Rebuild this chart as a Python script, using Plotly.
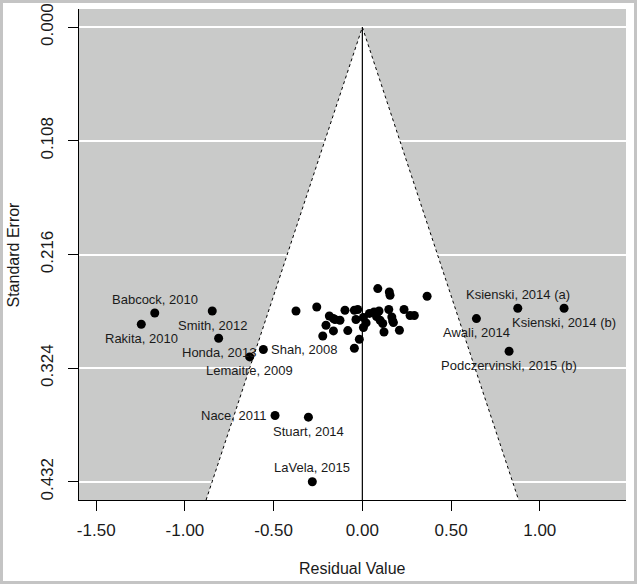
import plotly.graph_objects as go

# Labelled studies
lab_names = ["Babcock, 2010", "Rakita, 2010", "Smith, 2012", "Honda, 2013", "Lemaitre, 2009",
             "Shah, 2008", "Nace, 2011", "Stuart, 2014", "LaVela, 2015",
             "Ksienski, 2014 (a)", "Ksienski, 2014 (b)", "Awali, 2014", "Podczervinski, 2015 (b)"]
lab_resid = [-1.170, -1.246, -0.846, -0.810, -0.635, -0.558, -0.492, -0.304, -0.282,
             0.876, 1.137, 0.643, 0.827]
lab_se = [0.2716, 0.2823, 0.2697, 0.2956, 0.3133, 0.3063, 0.3690, 0.3706, 0.4320,
          0.2671, 0.2671, 0.2769, 0.3079]
lab_pos = ["top", "bottom", "bottom", "bottom", "bottom", "right", "left", "bottom", "top",
           "top", "bottom", "bottom", "bottom"]

# Unlabelled studies (central cluster)
other_resid = [-0.374, -0.257, -0.186, -0.154, -0.163, -0.126, -0.205, -0.223, -0.163, -0.098,
               -0.082, -0.045, -0.026, -0.036, -0.017, -0.045, 0.006, 0.021, 0.006, 0.087,
               0.152, 0.156, 0.365, 0.066, 0.094, 0.149, 0.235, 0.269, 0.293, 0.100,
               0.115, 0.166, 0.171, 0.175, 0.122, 0.209, 0.040, 0.080]
other_se = [0.2697, 0.2659, 0.2744, 0.2778, 0.2769, 0.2785, 0.2832, 0.2934, 0.2886, 0.2690,
            0.2883, 0.2690, 0.2683, 0.2778, 0.2965, 0.3051, 0.2759, 0.2810, 0.2854, 0.2484,
            0.2516, 0.2547, 0.2557, 0.2706, 0.2697, 0.2683, 0.2683, 0.2740, 0.2740, 0.2785,
            0.2816, 0.2754, 0.2791, 0.2807, 0.2896, 0.2880, 0.2720, 0.2750]

x_ticks = [-1.5, -1.0, -0.5, 0.0, 0.5, 1.0]
x_ticklabels = ["-1.50", "-1.00", "-0.50", "0.00", "0.50", "1.00"]
y_ticks = [0.000, 0.108, 0.216, 0.324, 0.432]
y_ticklabels = ["0.000", "0.108", "0.216", "0.324", "0.432"]

x_range = [-1.597, 1.486]
y_range = [-0.0173, 0.4493]
z = 1.96
gray = "#c9cac9"

W, H = 637, 584
ml, mr, mt, mb = 79, 11, 9, 84
pw, ph = W - ml - mr, H - mt - mb

fig = go.Figure()

ymax = y_range[1]
# white funnel region
fig.add_trace(go.Scatter(
    x=[-z * ymax, 0, z * ymax, -z * ymax], y=[ymax, 0, ymax, ymax],
    mode="lines", fill="toself", fillcolor="white",
    line=dict(color="white", width=0), hoverinfo="skip", showlegend=False))
# funnel edges (dotted)
fig.add_trace(go.Scatter(
    x=[-z * ymax, 0, z * ymax], y=[ymax, 0, ymax], mode="lines",
    line=dict(color="black", width=1, dash="dot"), hoverinfo="skip", showlegend=False))
# vertical reference line
fig.add_trace(go.Scatter(
    x=[0, 0], y=[0, ymax], mode="lines",
    line=dict(color="black", width=1.2), hoverinfo="skip", showlegend=False))

fig.add_trace(go.Scatter(
    x=other_resid + lab_resid, y=other_se + lab_se, mode="markers",
    marker=dict(color="black", size=9), showlegend=False))

font_lab = dict(family="Liberation Sans, Arial, sans-serif", size=13, color="#1a1a1a")
for name, xv, yv, pos in zip(lab_names, lab_resid, lab_se, lab_pos):
    a = dict(x=xv, y=yv, xref="x", yref="y", text=name, showarrow=False, font=font_lab)
    if pos == "top":
        a.update(xanchor="center", yanchor="middle", yshift=14)
    elif pos == "bottom":
        a.update(xanchor="center", yanchor="middle", yshift=-14)
    elif pos == "left":
        a.update(xanchor="right", yanchor="middle", xshift=-6)
    else:
        a.update(xanchor="left", yanchor="middle", xshift=6)
    fig.add_annotation(**a)

font_ax = dict(family="Liberation Sans, Arial, sans-serif", size=16, color="#1a1a1a")
font_tick = dict(family="Liberation Sans, Arial, sans-serif", size=17, color="#1a1a1a")
fig.add_annotation(x=0.5, y=(H - 568 - mb) / ph, xref="paper", yref="paper",
                   text="Residual Value", showarrow=False, font=font_ax,
                   xanchor="center", yanchor="middle")
fig.add_annotation(x=(13 - ml) / pw, y=0.5, xref="paper", yref="paper",
                   text="Standard Error", showarrow=False, font=font_ax, textangle=-90,
                   xanchor="center", yanchor="middle")

# outer frame
fig.add_shape(type="rect", xref="paper", yref="paper",
              x0=(1.5 - ml) / pw, x1=(W - 1.5 - ml) / pw,
              y0=(1.5 - mb) / ph, y1=(H - 1.5 - mb) / ph,
              line=dict(color="#c4c4c4", width=3), fillcolor="rgba(0,0,0,0)", layer="above")

fig.update_layout(
    width=W, height=H,
    margin=dict(l=ml, r=mr, t=mt, b=mb, autoexpand=False),
    paper_bgcolor="white", plot_bgcolor=gray,
    showlegend=False,
    xaxis=dict(range=x_range, tickvals=x_ticks, ticktext=x_ticklabels, automargin=False,
               showgrid=False, zeroline=False, showline=True, linecolor="black", linewidth=1,
               ticks="outside", ticklen=10, tickwidth=1, tickcolor="black",
               tickfont=font_tick, ticklabelstandoff=5),
    yaxis=dict(range=[y_range[1], y_range[0]], tickvals=y_ticks, ticktext=y_ticklabels,
               automargin=False,
               showgrid=True, gridcolor="white", gridwidth=1.5, zeroline=False,
               showline=True, linecolor="black", linewidth=1,
               ticks="outside", ticklen=10, tickwidth=1, tickcolor="black",
               tickfont=font_tick, tickangle=-90, ticklabelstandoff=8),
)

fig.write_html("out.html", config={"displayModeBar": False},
               post_script="document.body.style.margin='0';document.body.style.overflow='hidden';")
